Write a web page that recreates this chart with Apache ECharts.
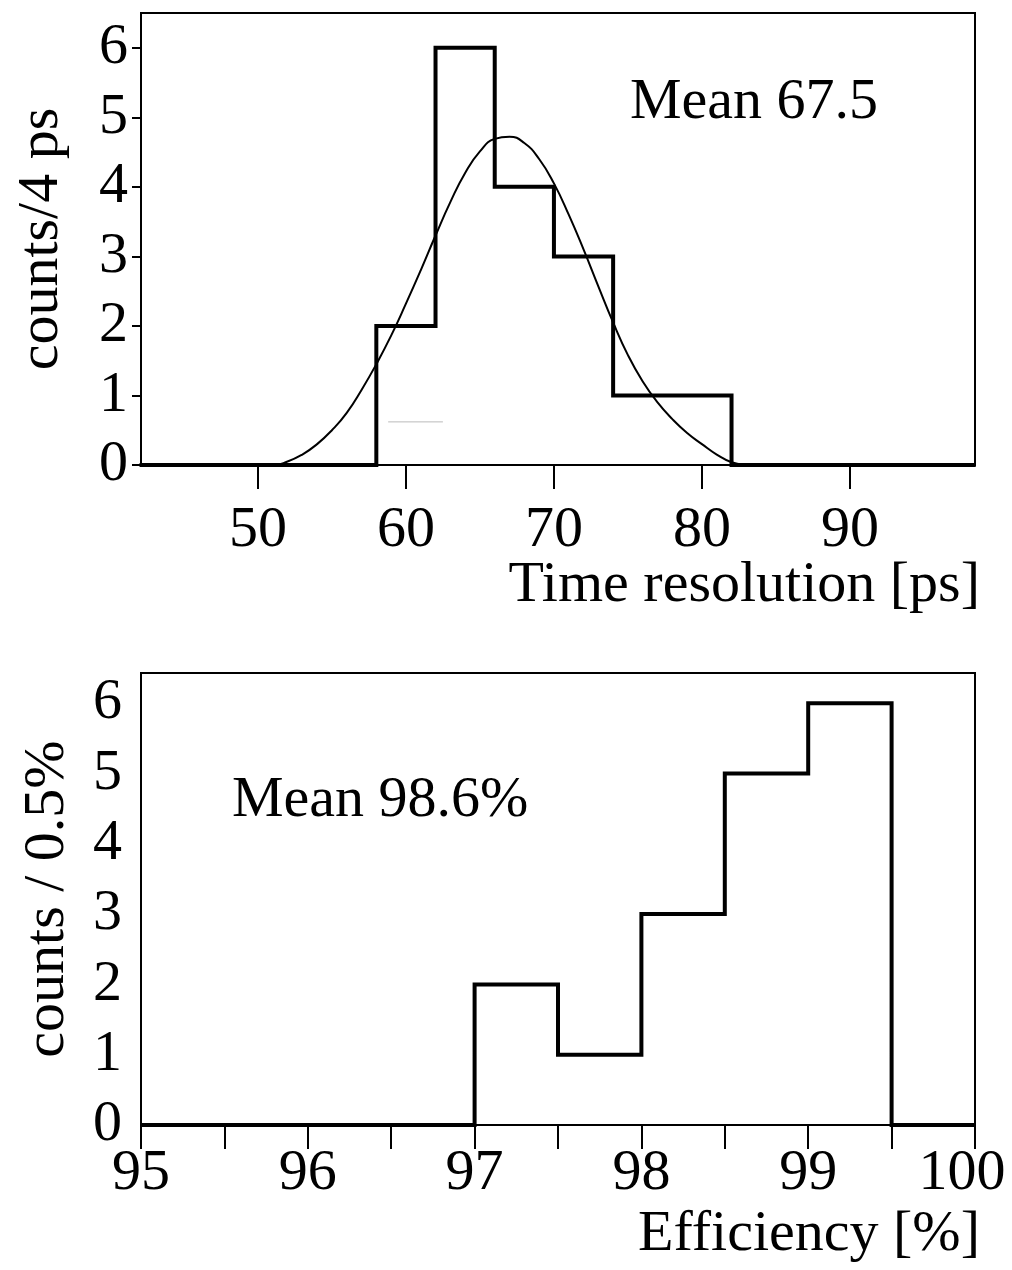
<!DOCTYPE html>
<html>
<head>
<meta charset="utf-8">
<script src="https://cdn.jsdelivr.net/npm/echarts@6/dist/echarts.min.js"></script>
<style>
html,body{margin:0;padding:0;background:#fff;}
#chart{width:1012px;height:1270px;}
</style>
</head>
<body>
<div id="chart"></div>
<script>
// ---- Data ----
const timeEdges  = [42, 58, 62, 66, 70, 74, 78, 82, 98.5];
const timeCounts = [0, 2, 6, 4, 3, 1, 1, 0, 0];
const fitX = [42, 51, 52, 53, 54, 55, 56, 57, 58, 59, 60, 61, 62, 63, 64, 65, 66, 67, 68, 69, 70, 71, 72, 73, 74, 75, 76, 77, 78, 79, 80, 81, 82, 83, 84, 86, 90, 98.5];
const fitY = [0, 0, 0.05, 0.15, 0.30, 0.50, 0.75, 1.08, 1.45, 1.86, 2.32, 2.80, 3.30, 3.78, 4.20, 4.51, 4.69, 4.72, 4.63, 4.40, 4.05, 3.60, 3.10, 2.57, 2.05, 1.58, 1.20, 0.90, 0.66, 0.46, 0.30, 0.15, 0.04, 0, -0.01, -0.02, -0.01, 0];
const strayX = [58.8, 62.5];
const strayY = [0.62, 0.62];
const effEdges  = [95, 97, 97.5, 98, 98.5, 99, 99.5, 100];
const effCounts = [0, 2, 1, 3, 5, 6, 0, 0];
const timeTicks = [50, 60, 70, 80, 90];
const countTicks = [0, 1, 2, 3, 4, 5, 6];
const effLabels = [95, 96, 97, 98, 99, 100];
const effTicks = [95, 95.5, 96, 96.5, 97, 97.5, 98, 98.5, 99, 99.5, 100];

const FONT = 'Liberation Serif';
const FS = 58;
const zip = (a, b) => a.map((v, i) => [v, b[i]]);

const chart = echarts.init(document.getElementById('chart'), null, {renderer: 'canvas'});
const txt = {fontFamily: FONT, fontSize: FS, color: '#000'};
const nameStyle = (pad) => Object.assign({}, txt, {align: 'right', verticalAlign: 'top', padding: [pad, 0, 0, 0], width: 700, overflow: 'none'});

chart.setOption({
  animation: false,
  backgroundColor: '#fff',
  grid: [
    {left: 141, top: 13, width: 834, height: 452, show: true, borderColor: '#000', borderWidth: 2, backgroundColor: 'transparent', containLabel: false, outerBoundsMode: 'none'},
    {left: 141, top: 673, width: 834, height: 452, show: true, borderColor: '#000', borderWidth: 2, backgroundColor: 'transparent', containLabel: false, outerBoundsMode: 'none'}
  ],
  xAxis: [
    {
      type: 'value', gridIndex: 0, min: 42.1, max: 98.45,
      name: 'Time resolution [ps]', nameLocation: 'end', nameGap: 5, nameMoveOverlap: false,
      nameTextStyle: nameStyle(92),
      axisLine: {show: true, onZero: false, lineStyle: {color: '#000', width: 2}},
      axisTick: {show: true, inside: false, length: 24, customValues: timeTicks, lineStyle: {color: '#000', width: 2}},
      axisLabel: Object.assign({}, txt, {margin: 37, customValues: timeTicks}),
      splitLine: {show: false}
    },
    {
      type: 'value', gridIndex: 1, min: 95, max: 100,
      name: 'Efficiency [%]', nameLocation: 'end', nameGap: 5, nameMoveOverlap: false,
      nameTextStyle: nameStyle(81),
      axisLine: {show: true, onZero: false, lineStyle: {color: '#000', width: 2}},
      axisTick: {show: true, inside: false, length: 24, customValues: effTicks, lineStyle: {color: '#000', width: 2}},
      axisLabel: Object.assign({}, txt, {
        margin: 20, customValues: effLabels,
        formatter: (v) => v === 100 ? '{last|' + v + '}' : String(v),
        rich: {last: Object.assign({}, txt, {padding: [0, 26, 0, 0]})}
      }),
      splitLine: {show: false}
    }
  ],
  yAxis: [
    {
      type: 'value', gridIndex: 0, min: 0, max: 6.5,
      name: 'counts/4 ps', nameLocation: 'middle', nameGap: 70, nameRotate: 90, nameMoveOverlap: false,
      nameTextStyle: txt,
      axisLine: {show: true, lineStyle: {color: '#000', width: 2}},
      axisTick: {show: true, inside: false, length: 9, customValues: countTicks, lineStyle: {color: '#000', width: 2}},
      axisLabel: Object.assign({}, txt, {margin: 13, customValues: countTicks, padding: [0, 0, 10, 0]}),
      splitLine: {show: false}
    },
    {
      type: 'value', gridIndex: 1, min: 0, max: 6.43,
      name: 'counts / 0.5%', nameLocation: 'middle', nameGap: 64, nameRotate: 90, nameMoveOverlap: false,
      nameTextStyle: txt,
      axisLine: {show: true, lineStyle: {color: '#000', width: 2}},
      axisTick: {show: false},
      axisLabel: Object.assign({}, txt, {margin: 19, customValues: countTicks}),
      splitLine: {show: false}
    }
  ],
  graphic: [
    {type: 'text', left: 630, top: 74, style: {text: 'Mean 67.5', font: FS + 'px ' + FONT, fill: '#000'}},
    {type: 'text', left: 232, top: 772, style: {text: 'Mean 98.6%', font: FS + 'px ' + FONT, fill: '#000'}}
  ],
  series: [
    {
      name: 'fit', type: 'line', xAxisIndex: 0, yAxisIndex: 0,
      data: zip(fitX, fitY), smooth: 0.5, showSymbol: false,
      lineStyle: {color: '#000', width: 2}, z: 3
    },
    {
      name: 'time resolution', type: 'line', xAxisIndex: 0, yAxisIndex: 0,
      data: zip(timeEdges, timeCounts), step: 'end', showSymbol: false,
      lineStyle: {color: '#000', width: 4, join: 'miter', cap: 'butt'}, z: 4
    },
    {
      name: 'stray', type: 'line', xAxisIndex: 0, yAxisIndex: 0,
      data: zip(strayX, strayY), showSymbol: false,
      lineStyle: {color: '#bbb', width: 1}, z: 2
    },
    {
      name: 'efficiency', type: 'line', xAxisIndex: 1, yAxisIndex: 1,
      data: zip(effEdges, effCounts), step: 'end', showSymbol: false,
      lineStyle: {color: '#000', width: 4, join: 'miter', cap: 'butt'}, z: 4
    }
  ]
});
</script>
</body>
</html>
